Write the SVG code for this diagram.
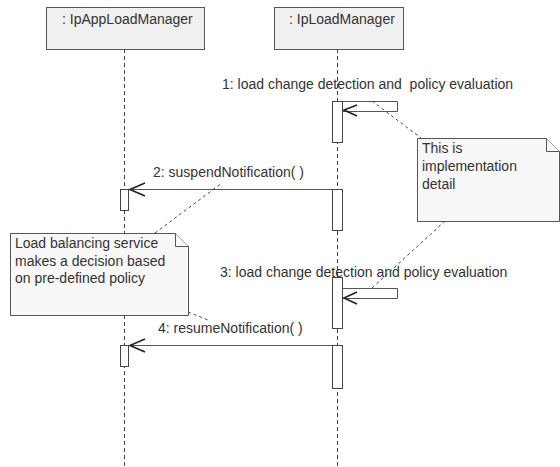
<svg xmlns="http://www.w3.org/2000/svg" width="560" height="467" viewBox="0 0 560 467">
  <style>
    text { font-family: "Liberation Sans", Arial, sans-serif; font-size: 14px; fill: #333; white-space: pre; }
    .head { fill: #f0f0f0; stroke: #555; stroke-width: 1; }
    .life { stroke: #444; stroke-width: 1; stroke-dasharray: 4 3; fill: none; }
    .act { fill: #fff; stroke: #444; stroke-width: 1; }
    .msg { stroke: #555; stroke-width: 1; fill: none; }
    .arrow { stroke: #222; stroke-width: 1.6; fill: none; }
    .note { fill: #f8f8f8; stroke: #555; stroke-width: 1; }
    .anchor { stroke: #444; stroke-width: 1; stroke-dasharray: 3 3; fill: none; }
  </style>

  <!-- lifelines -->
  <g id="lifelines">
    <line class="life" x1="124.5" y1="49" x2="124.5" y2="467"/>
    <line class="life" x1="337.5" y1="49" x2="337.5" y2="467"/>
  </g>

  <g id="appLoadManager">
    <rect class="head" x="46.5" y="7.5" width="158" height="42"/>
    <text x="62" y="24">: IpAppLoadManager</text>
  </g>

  <g id="loadManager">
    <rect class="head" x="274.5" y="7.5" width="129" height="42"/>
    <text x="289" y="24">: IpLoadManager</text>
  </g>

  <!-- activation bars -->
  <g id="activations">
    <rect class="act" x="332.5" y="101.5" width="10" height="41"/>
    <rect class="act" x="332.5" y="189.5" width="10" height="41"/>
    <rect class="act" x="332.5" y="277.5" width="10" height="51"/>
    <rect class="act" x="332.5" y="345.5" width="10" height="43"/>
    <rect class="act" x="120.5" y="189.5" width="8" height="21"/>
    <rect class="act" x="120.5" y="345.5" width="8" height="21"/>
  </g>

  <!-- messages -->
  <g id="connectors">
    <!-- 1: self call -->
    <polyline class="msg" points="342.5,101.5 397.5,101.5 397.5,111.5 343,111.5"/>
    <polyline class="arrow" points="357,105 344,110 357,116"/>
    <!-- 2: suspendNotification -->
    <line class="msg" x1="332.5" y1="189.5" x2="129" y2="189.5"/>
    <polyline class="arrow" points="145,183 130,189.5 145,196"/>
    <!-- 3: self call -->
    <polyline class="msg" points="342.5,288.5 397.5,288.5 397.5,298.5 343,298.5"/>
    <polyline class="arrow" points="357,292 344,298 357,304"/>
    <!-- 4: resumeNotification -->
    <line class="msg" x1="332.5" y1="345.5" x2="129" y2="345.5"/>
    <polyline class="arrow" points="145,339 130,345.5 145,352"/>

    <!-- note anchors -->
    <line class="anchor" x1="372" y1="101" x2="421" y2="138"/>
    <line class="anchor" x1="445" y1="221" x2="372" y2="288"/>
    <line class="anchor" x1="155" y1="233" x2="222" y2="183"/>
    <line class="anchor" x1="188" y1="312" x2="208" y2="320"/>
  </g>

  <g id="labels">
    <text x="222" y="89" xml:space="preserve">1: load change detection and  policy evaluation</text>
    <text x="153" y="177">2: suspendNotification( )</text>
    <text x="220" y="277">3: load change detection and policy evaluation</text>
    <text x="158" y="333">4: resumeNotification( )</text>
  </g>

  <g id="noteImplementation">
    <polygon class="note" points="417.5,138.5 546.5,138.5 559.5,151.5 559.5,221.5 417.5,221.5"/>
    <polyline class="note" points="546.5,138.5 546.5,151.5 559.5,151.5"/>
    <text x="422" y="153">This is</text>
    <text x="422" y="171">implementation</text>
    <text x="422" y="189">detail</text>
  </g>

  <g id="notePolicy">
    <polygon class="note" points="10.5,233.5 175.5,233.5 188.5,246.5 188.5,315.5 10.5,315.5"/>
    <polyline class="note" points="175.5,233.5 175.5,246.5 188.5,246.5"/>
    <text x="15" y="248">Load balancing service</text>
    <text x="15" y="266">makes a decision based</text>
    <text x="15" y="283">on pre-defined policy</text>
  </g>
</svg>
